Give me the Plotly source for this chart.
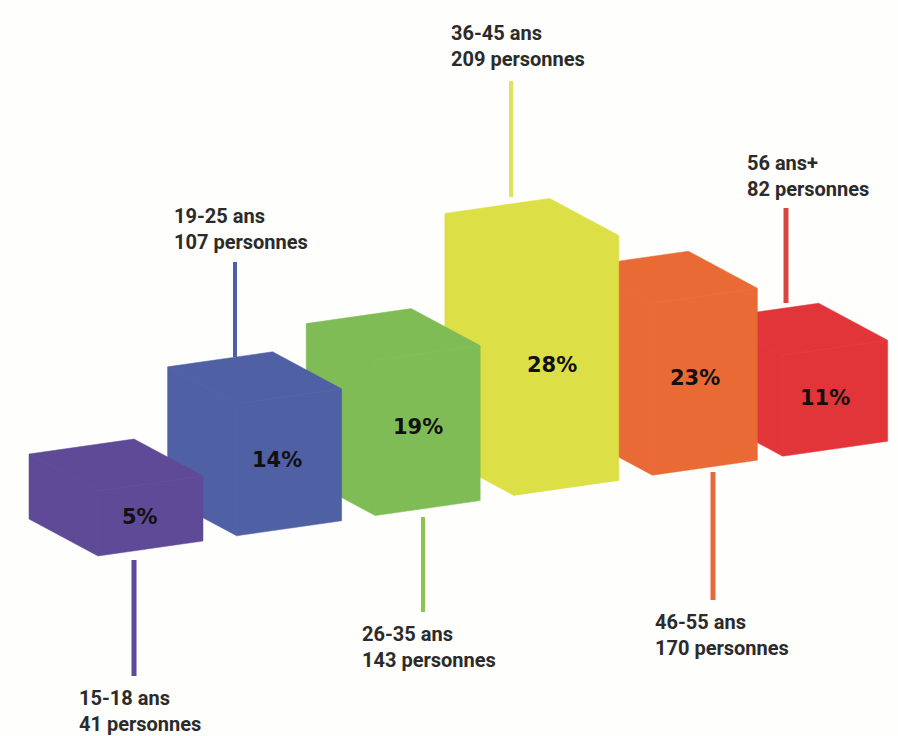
import plotly.graph_objects as go

# ---- data ----
age_groups = ["15-18 ans", "19-25 ans", "26-35 ans", "36-45 ans", "46-55 ans", "56 ans+"]
people = [41, 107, 143, 209, 170, 82]
percents = [5, 14, 19, 28, 23, 11]
bar_heights = [65, 132, 155, 245, 172, 101]
slots = [0, 1, 2, 3, 4, 4.94]

# ---- styling ----
colors = ["#5F4A98", "#4F60A5", "#7FBC55", "#DCDF46", "#E96A35", "#E2353A"]
stem_colors = ["#5F4A98", "#4F60A5", "#8FC250", "#DFE25A", "#E5693A", "#D9453F"]
ORIGIN = (203, 541)
STEP = (138.6, -20.2)
EDGE_A = (-105, 15)
EDGE_B = (-69, -37)

# stem: x, y start, y end, width ; label: x, y of the block's middle, pct label x, y
stems = [(134, 560, 676, 5), (235, 262, 357, 4), (423, 517, 612, 4),
         (511, 81, 197, 4), (713, 472, 600, 5), (786, 208, 303, 5)]
label_pos = [(77, 711), (172, 229), (360, 647), (449, 46), (653, 635), (745, 176)]
pct_pos = [(140, 517), (277, 460), (418, 427), (552, 365), (695, 378), (825, 398)]


def corner(slot, a, b, h):
    """Project a box corner: a/b are 0-1 along the floor edges, h is the height."""
    x = ORIGIN[0] + slot * STEP[0] + a * EDGE_A[0] + b * EDGE_B[0]
    y = ORIGIN[1] + slot * STEP[1] + a * EDGE_A[1] + b * EDGE_B[1] - h
    return x, y


fig = go.Figure()

for i in reversed(range(len(percents))):
    s, h = slots[i], bar_heights[i]
    ring = [corner(s, 1, 1, h), corner(s, 0, 1, h), corner(s, 0, 0, h), corner(s, 0, 0, 0),
            corner(s, 1, 0, 0), corner(s, 1, 1, 0), corner(s, 1, 1, h)]
    fig.add_trace(go.Scatter(
        x=[p[0] for p in ring], y=[p[1] for p in ring], mode="lines", fill="toself",
        fillcolor=colors[i], line=dict(color=colors[i], width=0.5),
        hoverinfo="skip", showlegend=False))
    inner = [corner(s, 1, 1, h), corner(s, 1, 0, h), corner(s, 0, 0, h),
             corner(s, 1, 0, h), corner(s, 1, 0, 0)]
    fig.add_trace(go.Scatter(
        x=[p[0] for p in inner], y=[p[1] for p in inner], mode="lines",
        line=dict(color="rgba(255,255,255,0.02)", width=1),
        hoverinfo="skip", showlegend=False))

for i, (x, y0, y1, w) in enumerate(stems):
    fig.add_trace(go.Scatter(
        x=[x, x], y=[y0, y1], mode="lines",
        line=dict(color=stem_colors[i], width=w),
        hoverinfo="skip", showlegend=False))

for i in range(len(percents)):
    fig.add_annotation(
        x=label_pos[i][0], y=label_pos[i][1], xref="x", yref="y",
        text=f"{age_groups[i]}<br>{people[i]} personnes", showarrow=False,
        xanchor="left", yanchor="middle", align="left",
        font=dict(family="Roboto", size=20, weight=700, color="#2B2B2B"))
    fig.add_annotation(
        x=pct_pos[i][0], y=pct_pos[i][1], xref="x", yref="y",
        text=f"{percents[i]}%", showarrow=False,
        xanchor="center", yanchor="middle",
        font=dict(family="DejaVu Sans", size=21, weight=700, color="#111111"))

fig.update_layout(
    width=898, height=736, autosize=False,
    margin=dict(l=0, r=0, t=0, b=0),
    paper_bgcolor="#FEFEFC", plot_bgcolor="#FEFEFC",
    xaxis=dict(range=[0, 898], visible=False, fixedrange=True),
    yaxis=dict(range=[736, 0], visible=False, fixedrange=True),
)
fig.write_html("out.html", config=dict(displayModeBar=False),
               post_script="document.body.style.margin='0';document.documentElement.style.overflow='hidden';")
